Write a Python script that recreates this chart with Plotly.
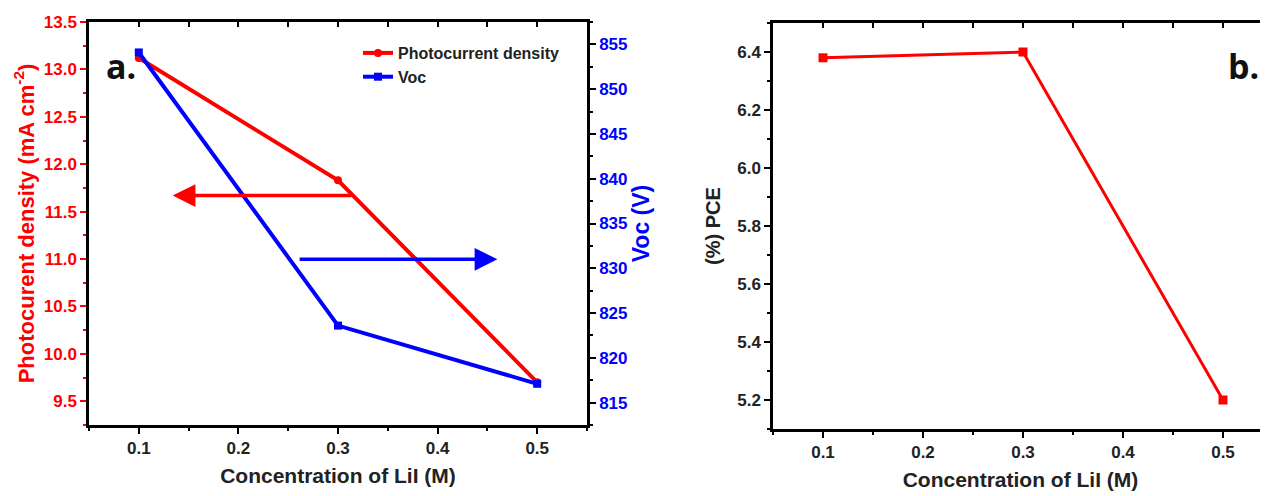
import plotly.graph_objects as go

# ---- data ----
conc = [0.1, 0.3, 0.5]
photocurrent = [13.12, 11.83, 9.70]      # mA cm^-2
voc = [854.1, 823.6, 817.1]              # V (as labelled)
pce = [6.38, 6.40, 5.20]                 # %

x_ticks = [0.1, 0.2, 0.3, 0.4, 0.5]

FONT = "Liberation Sans, Arial, sans-serif"
RED = "#ff0000"
BLUE = "#0000ff"

fig = go.Figure()

fig.add_trace(go.Scatter(
    x=conc, y=photocurrent, name="Photocurrent density", mode="lines+markers",
    line=dict(color=RED, width=4), marker=dict(symbol="circle", size=8, color=RED),
    xaxis="x", yaxis="y"))
fig.add_trace(go.Scatter(
    x=conc, y=voc, name="Voc", mode="lines+markers",
    line=dict(color=BLUE, width=4), marker=dict(symbol="square", size=8, color=BLUE),
    xaxis="x", yaxis="y2"))
fig.add_trace(go.Scatter(
    x=conc, y=pce, name="PCE", mode="lines+markers", showlegend=False,
    line=dict(color=RED, width=3), marker=dict(symbol="square", size=9, color=RED),
    xaxis="x3", yaxis="y3"))
# invisible helper traces so the top (inward-tick) axes get drawn
fig.add_trace(go.Scatter(x=conc, y=photocurrent, mode="markers", marker=dict(opacity=0),
                         showlegend=False, hoverinfo="skip", xaxis="x2", yaxis="y"))
fig.add_trace(go.Scatter(x=conc, y=pce, mode="markers", marker=dict(opacity=0),
                         showlegend=False, hoverinfo="skip", xaxis="x4", yaxis="y3"))

# page body has an 8px margin, so the figure is 8px smaller and positions are shifted
OFF = 8
W, H = 1268 - OFF, 496 - OFF

def px_x(p):
    return (p - OFF) / W

def px_y(p):
    return 1 - (p - OFF) / H

tickfont = dict(family=FONT, size=17, color="#222222", weight="bold")
titlefont = dict(family=FONT, size=21, color="#222222", weight="bold")

common_x = dict(
    range=[0.05, 0.55], tickvals=x_ticks, ticktext=[f"{v:.1f}" for v in x_ticks],
    showline=True, linecolor="black", linewidth=2.5, mirror=True,
    ticks="outside", ticklen=6, tickwidth=2, tickcolor="black",
    minor=dict(dtick=0.05, tick0=0.05, ticks="outside", ticklen=3, tickwidth=2, tickcolor="black"),
    showgrid=False, zeroline=False, tickfont=tickfont, automargin=False,
    title=dict(text="Concentration of LiI (M)", font=titlefont, standoff=12),
)

# top axes with inward ticks (no labels)
top_x = dict(
    side="top", tickvals=x_ticks, showticklabels=False, showline=False,
    ticks="inside", ticklen=5, tickwidth=2, tickcolor="black",
    minor=dict(dtick=0.05, tick0=0.05, ticks="inside", ticklen=5, tickwidth=2, tickcolor="black"),
    showgrid=False, zeroline=False, automargin=False,
)

fig.update_layout(
    width=W, height=H,
    margin=dict(l=0, r=0, t=0, b=0, autoexpand=False),
    paper_bgcolor="white", plot_bgcolor="white",
    font=dict(family=FONT),
    xaxis=dict(common_x, domain=[px_x(89), px_x(587)], anchor="y"),
    xaxis2=dict(top_x, overlaying="x", range=[0.05, 0.55], anchor="y"),
    yaxis=dict(
        domain=[px_y(425), px_y(22)], anchor="x", automargin=False,
        range=[9.25, 13.5], tickvals=[9.5, 10.0, 10.5, 11.0, 11.5, 12.0, 12.5, 13.0, 13.5],
        ticktext=["9.5", "10.0", "10.5", "11.0", "11.5", "12.0", "12.5", "13.0", "13.5"],
        showline=True, linecolor="black", linewidth=2.5,
        ticks="outside", ticklen=6, tickwidth=2, tickcolor=RED,
        minor=dict(dtick=0.25, tick0=9.25, ticks="outside", ticklen=3, tickwidth=2, tickcolor=RED),
        showgrid=False, zeroline=False,
        tickfont=dict(family=FONT, size=17, color=RED, weight="bold"),
        title=dict(text="Photocurent density (mA cm<sup>-2</sup>)",
                   font=dict(family=FONT, size=22, color=RED, weight="bold"), standoff=4),
    ),
    yaxis2=dict(
        overlaying="y", side="right", anchor="x", automargin=False,
        range=[812.5, 857.5], tickvals=[815, 820, 825, 830, 835, 840, 845, 850, 855],
        showline=True, linecolor="black", linewidth=2.5,
        ticks="outside", ticklen=6, tickwidth=2, tickcolor="black",
        minor=dict(dtick=2.5, tick0=812.5, ticks="outside", ticklen=3, tickwidth=2, tickcolor="black"),
        showgrid=False, zeroline=False,
        tickfont=dict(family=FONT, size=17, color=BLUE, weight="bold"),
        title=dict(text="Voc (V)", font=dict(family=FONT, size=23, color=BLUE, weight="bold"), standoff=2),
    ),
    xaxis3=dict(common_x, domain=[px_x(773), 1.0], anchor="y3", range=[0.05, 0.545]),
    xaxis4=dict(top_x, overlaying="x3", range=[0.05, 0.545], anchor="y3"),
    yaxis3=dict(
        domain=[px_y(429), px_y(23)], anchor="x3", automargin=False,
        range=[5.1, 6.5], tickvals=[5.2, 5.4, 5.6, 5.8, 6.0, 6.2, 6.4],
        ticktext=["5.2", "5.4", "5.6", "5.8", "6.0", "6.2", "6.4"],
        showline=True, linecolor="black", linewidth=2.5, mirror=False,
        ticks="outside", ticklen=6, tickwidth=2, tickcolor="black",
        minor=dict(dtick=0.1, tick0=5.1, ticks="outside", ticklen=3, tickwidth=2, tickcolor="black"),
        showgrid=False, zeroline=False, tickfont=tickfont,
        title=dict(text="(%) PCE", font=dict(family=FONT, size=20, color="#222222", weight="bold"), standoff=12),
    ),
    legend=dict(
        x=px_x(358), y=px_y(36), xanchor="left", yanchor="top",
        bgcolor="rgba(0,0,0,0)", font=dict(family=FONT, size=16, color="#222222", weight="bold"),
        itemwidth=30, tracegroupgap=0,
    ),
    showlegend=True,
)

# direction arrows (pointing to the axis each curve belongs to)
fig.add_annotation(x=0.134, y=11.67, ax=0.315, ay=11.67, xref="x", yref="y", axref="x", ayref="y",
                   text="", showarrow=True, arrowhead=2, arrowsize=1.3, arrowwidth=3.5, arrowcolor=RED)
fig.add_annotation(x=0.46, y=831.0, ax=0.26, ay=831.0, xref="x", yref="y2", axref="x", ayref="y2",
                   text="", showarrow=True, arrowhead=2, arrowsize=1.3, arrowwidth=3.5, arrowcolor=BLUE)

# panel labels
fig.add_annotation(text="a.", x=px_x(104), y=px_y(66), xref="paper", yref="paper",
                   xanchor="left", yanchor="middle", showarrow=False,
                   font=dict(family="Open Sans, " + FONT, size=34, color="#111111", weight="bold"))
fig.add_annotation(text="b.", x=px_x(1226), y=px_y(66), xref="paper", yref="paper",
                   xanchor="left", yanchor="middle", showarrow=False,
                   font=dict(family="Open Sans, " + FONT, size=34, color="#111111", weight="bold"))

fig.write_html("out.html")
